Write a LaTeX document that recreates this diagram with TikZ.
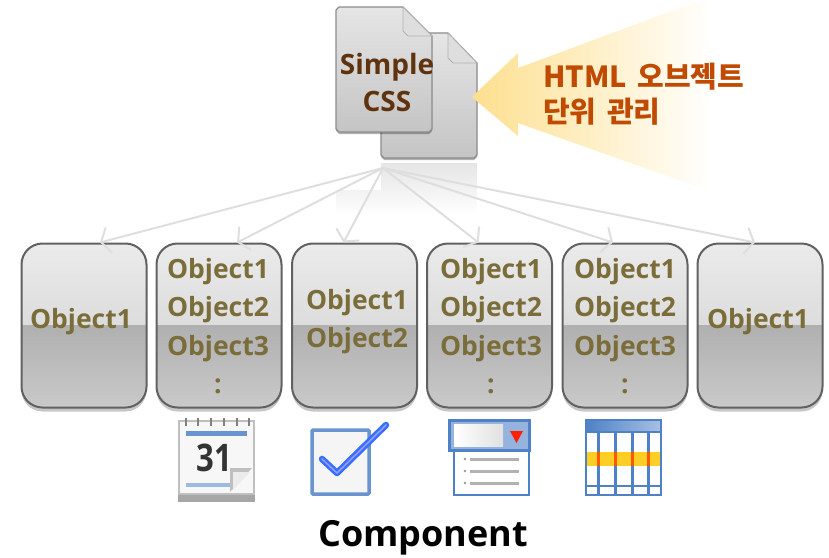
\documentclass[tikz,border=0pt]{standalone}
\usepackage{fontspec}
\usepackage{graphicx}
\setmainfont{Open Sans}
\newfontfamily\krfont{Noto Sans CJK KR}
\usetikzlibrary{arrows.meta,shadows,calc}
\definecolor{objtxt}{HTML}{7A6D3A}
\definecolor{csstxt}{HTML}{60330F}
\definecolor{htmltxt}{HTML}{C04A00}
\definecolor{linkc}{HTML}{DEDEDE}
\definecolor{iconblue}{HTML}{4F81C7}
\definecolor{wedgec}{HTML}{FDDF8E}
\tikzset{
  objbox/.style={draw=black!62,line width=2pt,rounded corners=21pt,minimum width=125pt,minimum height=164pt,inner sep=0pt,
    drop shadow={shadow xshift=0pt,shadow yshift=-4pt,opacity=.22,fill=black},
    path picture={
      \shade[sharp corners,top color=white!92!black,bottom color=white!81!black] (path picture bounding box.north west) rectangle (path picture bounding box.east);
      \shade[sharp corners,top color=white!69!black,bottom color=white!79!black] (path picture bounding box.west) rectangle (path picture bounding box.south east);
    }},
  objlabel/.style={text=objtxt,font=\fontsize{26.5}{38.5}\selectfont\bfseries,align=center,inner sep=0pt},
  linkarrow/.style={draw=linkc,line width=2pt,-{Straight Barb[length=8pt,width=26pt]}},
  docfill/.style={draw=black!45,line width=1.2pt,top color=white!90!black,bottom color=white!77!black,line join=round},
  foldfill/.style={draw=black!30,line width=.8pt,fill=white!87!black},
  iconline/.style={draw=iconblue,line width=2.4pt},
}
\begin{document}
\begin{tikzpicture}[x=1pt,y=-1pt]
\useasboundingbox (0,0) rectangle (829,557);
% reflection
\shade[top color=white!90!black,bottom color=white] (381,163) rectangle (477,215);
\shade[top color=white!95!black,bottom color=white] (336,190) rectangle (432,215);
% back document
\path[docfill,drop shadow={shadow xshift=0pt,shadow yshift=-2pt,opacity=.3,fill=black}] (384,33) -- (448,33) -- (477,63) -- (477,155) -- (474,158) -- (384,158) -- (381,155) -- (381,36) -- cycle;
\path[foldfill] (448,33) -- (477,63) -- (453,63) -- (448,58) -- cycle;
% highlight wedge
\shade[left color=wedgec,right color=white] (472,97) -- (518,53) -- (518,68) -- (712,-4) -- (712,192) -- (518,123) -- (518,136) -- cycle;
% front document
\path[docfill,drop shadow={shadow xshift=0pt,shadow yshift=-2pt,opacity=.3,fill=black}] (339,7) -- (403,7) -- (432,36) -- (432,129) -- (429,132) -- (339,132) -- (336,129) -- (336,10) -- cycle;
\path[foldfill] (403,7) -- (432,36) -- (408,36) -- (403,31) -- cycle;
\node[text=csstxt,font=\fontsize{28}{37}\selectfont\bfseries,align=center,inner sep=0pt] (csslabel) at (387,82) {Simple\\CSS};
\node[text=htmltxt,font=\krfont\fontsize{29}{35}\selectfont\bfseries,align=left,anchor=west,inner sep=0pt] (htmllabel) at (543,94) {HTML\hspace{4pt} 오브젝트\\단위\hspace{4pt} 관리};
% hub
\coordinate (hub) at (383,168);
% boxes
\node[objbox] (b1) at (84,325.5) {};
\node[objbox] (b2) at (219,325.5) {};
\node[objbox] (b3) at (354.5,325.5) {};
\node[objbox] (b4) at (489.5,325.5) {};
\node[objbox] (b5) at (625,325.5) {};
\node[objbox] (b6) at (760,325.5) {};
\node[objlabel] (l1) at (81,322) {Object1};
\node[objlabel] (l2) at (218,326) {Object1\\Object2\\Object3\\:};
\node[objlabel] (l3) at (357,321.5) {Object1\\Object2};
\node[objlabel] (l4) at (491,326) {Object1\\Object2\\Object3\\:};
\node[objlabel] (l5) at (625,326) {Object1\\Object2\\Object3\\:};
\node[objlabel] (l6) at (758,322) {Object1};
% connectors
\draw[linkarrow] (hub) -- ([xshift=16pt]b1.north);
\draw[linkarrow] (hub) -- ([xshift=18pt]b2.north);
\draw[linkarrow] (hub) -- ([xshift=-11pt]b3.north);
\draw[linkarrow] (hub) -- ([xshift=-11pt]b4.north);
\draw[linkarrow] (hub) -- ([xshift=-12pt]b5.north);
\draw[linkarrow] (hub) -- ([xshift=-5pt]b6.north);
% calendar icon
\fill[black!35] (178,492) rectangle (255,502);
\draw[draw=black!25,fill=white!97!black,line width=1.4pt] (179,421) rectangle (254,494);
\foreach \x in {186,198,211,224,237,249} \draw[black!50,line width=2pt] (\x,418) -- (\x,426);
\fill[iconblue!85] (186,431) rectangle (247,436);
\fill[iconblue!55] (186,483) rectangle (230,487);
\node[font=\fontsize{38}{38}\selectfont\bfseries,text=black!80,inner sep=0pt] (cal) at (214,458) {\scalebox{0.82}[1]{31}};
\fill[black!25] (230,492) -- (230,468) -- (252,468) -- cycle;
\fill[white!92!black] (233,490) -- (233,472) -- (250,472) -- cycle;
% checkbox icon
\draw[draw=iconblue!85,fill=white!96!black,line width=3.5pt,rounded corners=1pt] (312,430) rectangle (369,494);
\draw[draw=blue!70!cyan!80,line width=6.5pt,line cap=round,line join=round] (322,459) -- (337,473) -- (386,425);
\draw[draw=white!60!blue,line width=1.6pt,line cap=round,line join=round] (322,459) -- (337,473) -- (386,425);
% dropdown icon
\draw[iconline,fill=white] (454,450) rectangle (529,495);
\foreach \y in {459,471,483} {\draw[black!30,line width=3pt] (470,\y) -- (519,\y); \fill[black!40] (465,\y) circle (1.3pt);}
\draw[iconline,fill=iconblue!60,line width=3pt] (449,420) rectangle (529,450);
\shade[left color=white,right color=white!88!black] (454,424) rectangle (503,446);
\fill[red!75!orange] (510,431) -- (523,431) -- (516.5,443) -- cycle;
% grid icon
\fill[white] (586,420) rectangle (661,495);
\shade[left color=iconblue,right color=iconblue!50!white] (586,420) rectangle (661,432);
\fill[orange!45!yellow!85!white] (586,452) rectangle (661,466);
\foreach \x in {598,615,632,648} {\draw[iconline,line width=3pt] (\x,432) -- (\x,495); \draw[orange!70!red,line width=3pt] (\x,452) -- (\x,466);}
\foreach \y in {432,486} \draw[iconline] (586,\y) -- (661,\y);
\draw[iconline,line width=2.4pt] (586,420) rectangle (661,495);
% caption
\node[font=\fontsize{36}{36}\selectfont\bfseries,text=black,inner sep=0pt] (caption) at (423,538) {Component};
\end{tikzpicture}
\end{document}
